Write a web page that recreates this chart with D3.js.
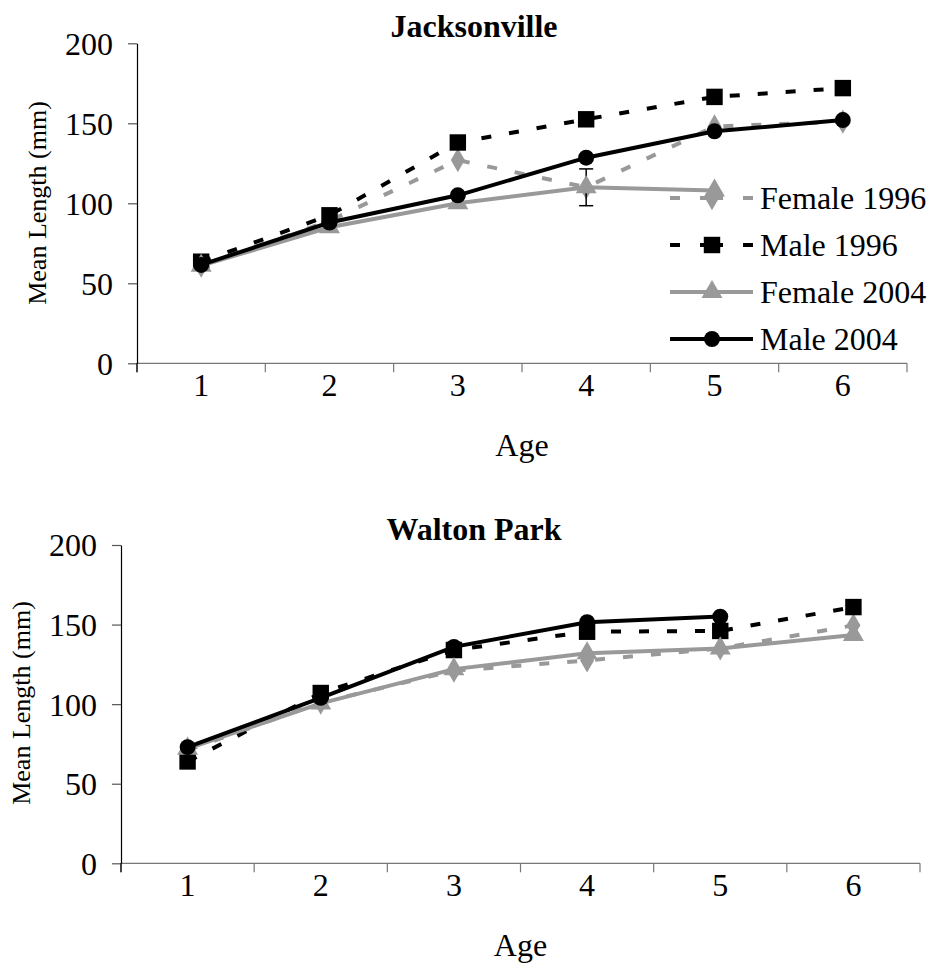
<!DOCTYPE html>
<html>
<head>
<meta charset="utf-8">
<script src="https://cdn.jsdelivr.net/npm/d3@7"></script>
<style>
  html, body { margin: 0; padding: 0; background: #fff; }
  svg { display: block; }
  text { font-family: "Liberation Serif", "Times New Roman", serif; fill: #000; }
</style>
</head>
<body>
<svg id="chart" width="931" height="972"></svg>
<script>
// Age classes and tick labels
const ages = [1, 2, 3, 4, 5, 6];
const yTicks = [0, 50, 100, 150, 200];
const seriesNames = ["Female 1996", "Male 1996", "Female 2004", "Male 2004"];

// Jacksonville mean lengths (mm) by age
const jaxFemale1996 = [61, 89, 127, 110, 148, 151];
const jaxMale1996   = [63.5, 92.5, 138, 152.5, 166.5, 172];
const jaxFemale2004 = [61, 85, 100, 110, 108, null];
const jaxMale2004   = [61.5, 88, 105, 128.5, 145, 152];
// standard error shown for Female 2004 at age 4
const jaxFemale2004Err = [null, null, null, 11.5, null, null];

// Walton Park mean lengths (mm) by age
const wpFemale1996 = [71, 101, 121, 127.5, 135, 149.5];
const wpMale1996   = [64, 107, 134, 145.5, 146, 161];
const wpFemale2004 = [72, 100.5, 122, 132, 135, 143.5];
const wpMale2004   = [73, 104, 136, 151.5, 155, null];

const FONT = "Liberation Serif, Times New Roman, serif";

const styles = [
  { color: "#999999", dash: "10,18", marker: "diamond" },
  { color: "#000000", dash: "10,18", marker: "square" },
  { color: "#999999", dash: null,    marker: "triangle" },
  { color: "#000000", dash: null,    marker: "circle" }
];

const svg = d3.select("#chart");

const symbolTypes = {
  diamond: d3.symbolDiamond,
  square: d3.symbolSquare,
  triangle: d3.symbolTriangle,
  circle: d3.symbolCircle
};
const symbolSizes = { diamond: 170, square: 270, triangle: 190, circle: 200 };

function marker(g, kind, color, x, y) {
  g.append("path")
    .attr("d", d3.symbol().type(symbolTypes[kind]).size(symbolSizes[kind])())
    .attr("transform", `translate(${x},${y})`)
    .attr("fill", color);
}

function drawPanel(opt) {
  const g = svg.append("g");
  const x = d3.scaleBand().domain(ages).range([opt.x0, opt.x1]);
  const y = d3.scaleLinear().domain([0, 200]).range([opt.yBottom, opt.yTop]);
  const cx = a => x(a) + x.bandwidth() / 2;

  // x axis: line with boundary ticks between categories
  const xAxis = g.append("g").attr("transform", `translate(0,${opt.yBottom})`);
  xAxis.append("line").attr("x1", opt.x0).attr("x2", opt.x1)
    .attr("stroke", "#777").attr("stroke-width", 1.2);
  const bounds = ages.map(a => x(a)).concat([opt.x1]);
  xAxis.selectAll("line.tk").data(bounds).join("line").attr("class", "tk")
    .attr("x1", d => d).attr("x2", d => d).attr("y1", 0).attr("y2", 9)
    .attr("stroke", "#777").attr("stroke-width", 1.2);
  xAxis.selectAll("text").data(ages).join("text")
    .attr("x", d => cx(d)).attr("y", 33)
    .attr("text-anchor", "middle").attr("font-size", 32)
    .attr("font-family", FONT).text(d => d);

  // y axis
  const yAxis = d3.axisLeft(y).tickValues(yTicks).tickSize(9).tickSizeOuter(0).tickPadding(15);
  const ya = g.append("g").attr("transform", `translate(${opt.x0},0)`).call(yAxis);
  ya.attr("font-family", FONT);
  ya.select(".domain").attr("stroke", "#000").attr("stroke-width", 1.2);
  ya.selectAll(".tick line").attr("stroke", "#555").attr("stroke-width", 1.2);
  ya.selectAll(".tick text").attr("font-size", 32)
    .attr("font-family", FONT).attr("dy", "0.34em");
  // y axis extends down to the first x tick
  g.append("line").attr("x1", opt.x0).attr("x2", opt.x0)
    .attr("y1", opt.yBottom).attr("y2", opt.yBottom + 9)
    .attr("stroke", "#000").attr("stroke-width", 1.2);

  // labels
  g.append("text").attr("x", opt.titleX).attr("y", opt.titleY)
    .attr("text-anchor", "middle").attr("font-size", 32).attr("font-weight", "bold")
    .attr("font-family", FONT).text(opt.title);
  g.append("text").attr("x", (opt.x0 + opt.x1) / 2).attr("y", opt.yBottom + 93)
    .attr("text-anchor", "middle").attr("font-size", 32)
    .attr("font-family", FONT).text("Age");
  g.append("text")
    .attr("transform", `translate(${opt.yLabelX},${opt.yLabelY}) rotate(-90)`)
    .attr("text-anchor", "middle").attr("font-size", 26)
    .attr("font-family", FONT).text("Mean Length (mm)");

  // series lines, error bars and markers
  const line = d3.line().defined(d => d.v != null).x(d => cx(d.a)).y(d => y(d.v));
  opt.series.forEach((vals, i) => {
    const st = styles[i];
    const pts = ages.map((a, j) => ({ a, v: vals[j] }));
    g.append("path").datum(pts).attr("d", line)
      .attr("fill", "none").attr("stroke", st.color).attr("stroke-width", 4)
      .attr("stroke-dasharray", st.dash);
    const err = opt.errors && opt.errors[i];
    if (err) {
      pts.forEach((p, j) => {
        if (err[j] == null || p.v == null) return;
        const px = cx(p.a), lo = y(p.v - err[j]), hi = y(p.v + err[j]);
        g.append("line").attr("x1", px).attr("x2", px).attr("y1", lo).attr("y2", hi)
          .attr("stroke", "#000").attr("stroke-width", 1.5);
        [lo, hi].forEach(yy => g.append("line")
          .attr("x1", px - 7).attr("x2", px + 7).attr("y1", yy).attr("y2", yy)
          .attr("stroke", "#000").attr("stroke-width", 1.5));
      });
    }
    pts.filter(p => p.v != null).forEach(p => marker(g, st.marker, st.color, cx(p.a), y(p.v)));
  });

  // legend
  if (opt.legend) {
    const L = opt.legend;
    seriesNames.forEach((name, i) => {
      const st = styles[i];
      const ly = L.y + i * L.step;
      if (st.dash) {
        [[L.x, L.x + 10], [L.x + 30, L.x + 53], [L.x + 73, L.x + 83]].forEach(([a, b]) =>
          g.append("line").attr("x1", a).attr("x2", b).attr("y1", ly).attr("y2", ly)
            .attr("stroke", st.color).attr("stroke-width", 4));
      } else {
        g.append("line").attr("x1", L.x).attr("x2", L.x + 83).attr("y1", ly).attr("y2", ly)
          .attr("stroke", st.color).attr("stroke-width", 4);
      }
      marker(g, st.marker, st.color, L.x + 42, ly);
      g.append("text").attr("x", L.x + 90).attr("y", ly + 11)
        .attr("font-size", 32).attr("font-family", FONT).text(name);
    });
  }
}

drawPanel({
  title: "Jacksonville", titleX: 474, titleY: 37,
  x0: 137, x1: 907, yTop: 43.3, yBottom: 363.3,
  yLabelX: 46, yLabelY: 203,
  series: [jaxFemale1996, jaxMale1996, jaxFemale2004, jaxMale2004],
  errors: [null, null, jaxFemale2004Err, null],
  legend: { x: 670, y: 198, step: 47 }
});

drawPanel({
  title: "Walton Park", titleX: 474, titleY: 540,
  x0: 121, x1: 920, yTop: 545, yBottom: 863.3,
  yLabelX: 30, yLabelY: 703,
  series: [wpFemale1996, wpMale1996, wpFemale2004, wpMale2004]
});
</script>
</body>
</html>
